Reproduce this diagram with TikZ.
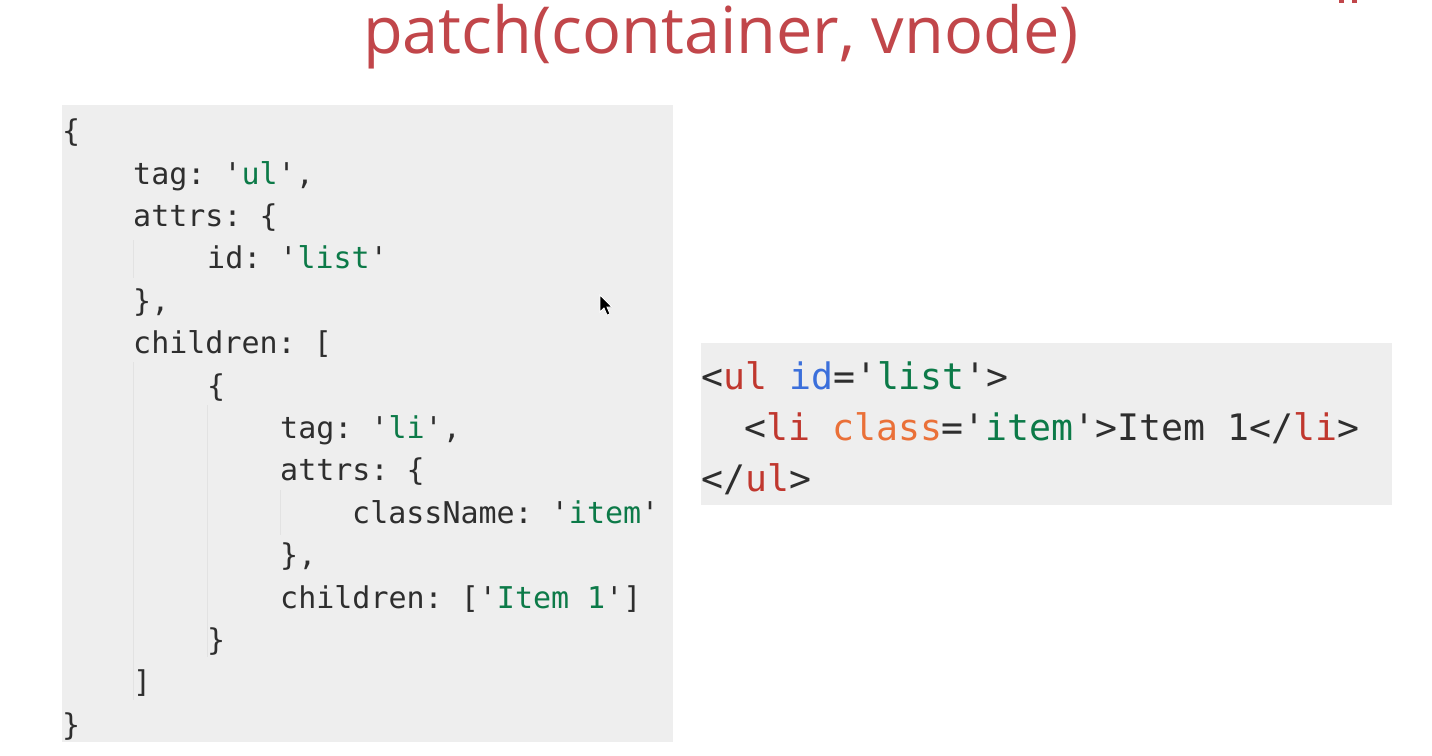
\documentclass[tikz,border=0pt]{standalone}
\usepackage{fontspec}
\setmainfont{Open Sans}
\setmonofont{DejaVu Sans Mono}
\definecolor{titlered}{HTML}{C1464A}
\definecolor{codebg}{HTML}{EEEEEE}
\definecolor{codetxt}{HTML}{2E2E2E}
\definecolor{strgreen}{HTML}{0C7A48}
\definecolor{tagred}{HTML}{C0372E}
\definecolor{attrblue}{HTML}{3B6FDB}
\definecolor{attrorange}{HTML}{EA7038}
\definecolor{guide}{HTML}{E2E2E2}
\newcommand{\gs}[1]{\textcolor{strgreen}{#1}}
\newcommand{\tr}[1]{\textcolor{tagred}{#1}}
\begin{document}
\begin{tikzpicture}[x=1pt,y=-1pt,
  lcode/.style={anchor=base west,inner sep=0pt,text=codetxt,font=\fontsize{30}{36}\ttfamily},
  rcode/.style={anchor=base west,inner sep=0pt,text=codetxt,font=\fontsize{36.5}{44}\ttfamily},
  guideline/.style={draw=guide,line width=1pt}]
\useasboundingbox (0,0) rectangle (1432,755);
\fill[white] (0,0) rectangle (1432,755);
% title
\node[anchor=base west,inner sep=0pt,text=titlered,font=\fontsize{64.8}{72}\selectfont] (title) at (363,53) {patch(container, vnode)};
% corner marks
\fill[titlered] (1339,0) rectangle (1344,3);
\fill[titlered] (1352,0) rectangle (1357,3);
% left box
\fill[codebg] (62,105) rectangle (673,742);
\draw[guideline] (133,240) -- (133,278);
\draw[guideline] (133,362) -- (133,700);
\draw[guideline] (207,405) -- (207,657);
\draw[guideline] (280,490) -- (280,535);
\node[lcode] (l0) at (62,141.6) {\{};
\node[lcode] (l1) at (133,184) {tag: '\gs{ul}',};
\node[lcode] (l2) at (133,226.4) {attrs: \{};
\node[lcode] (l3) at (207,268.8) {id: '\gs{list}'};
\node[lcode] (l4) at (133,311.2) {\},};
\node[lcode] (l5) at (133,353.6) {children: [};
\node[lcode] (l6) at (207,396) {\{};
\node[lcode] (l7) at (280,438.4) {tag: '\gs{li}',};
\node[lcode] (l8) at (280,480.8) {attrs: \{};
\node[lcode] (l9) at (352,523.2) {className: '\gs{item}'};
\node[lcode] (l10) at (280,565.6) {\},};
\node[lcode] (l11) at (280,608) {children: ['\gs{Item 1}']};
\node[lcode] (l12) at (207,650.4) {\}};
\node[lcode] (l13) at (133,692.8) {]};
\node[lcode] (l14) at (62,735.2) {\}};
% cursor
\filldraw[fill=black,draw=white,line width=0.8pt] (600,295) -- (600,312) -- (604,308) -- (607,315) -- (610,314) -- (607,307) -- (612,307) -- cycle;
% right box
\fill[codebg] (701,343) rectangle (1392,505);
\node[rcode] (r1) at (701,389) {<\tr{ul} \textcolor{attrblue}{id}='\gs{list}'>};
\node[rcode] (r2) at (744,440) {<\tr{li} \textcolor{attrorange}{class}='\gs{item}'>Item 1</\tr{li}>};
\node[rcode] (r3) at (701,491) {</\tr{ul}>};
\end{tikzpicture}
\end{document}
